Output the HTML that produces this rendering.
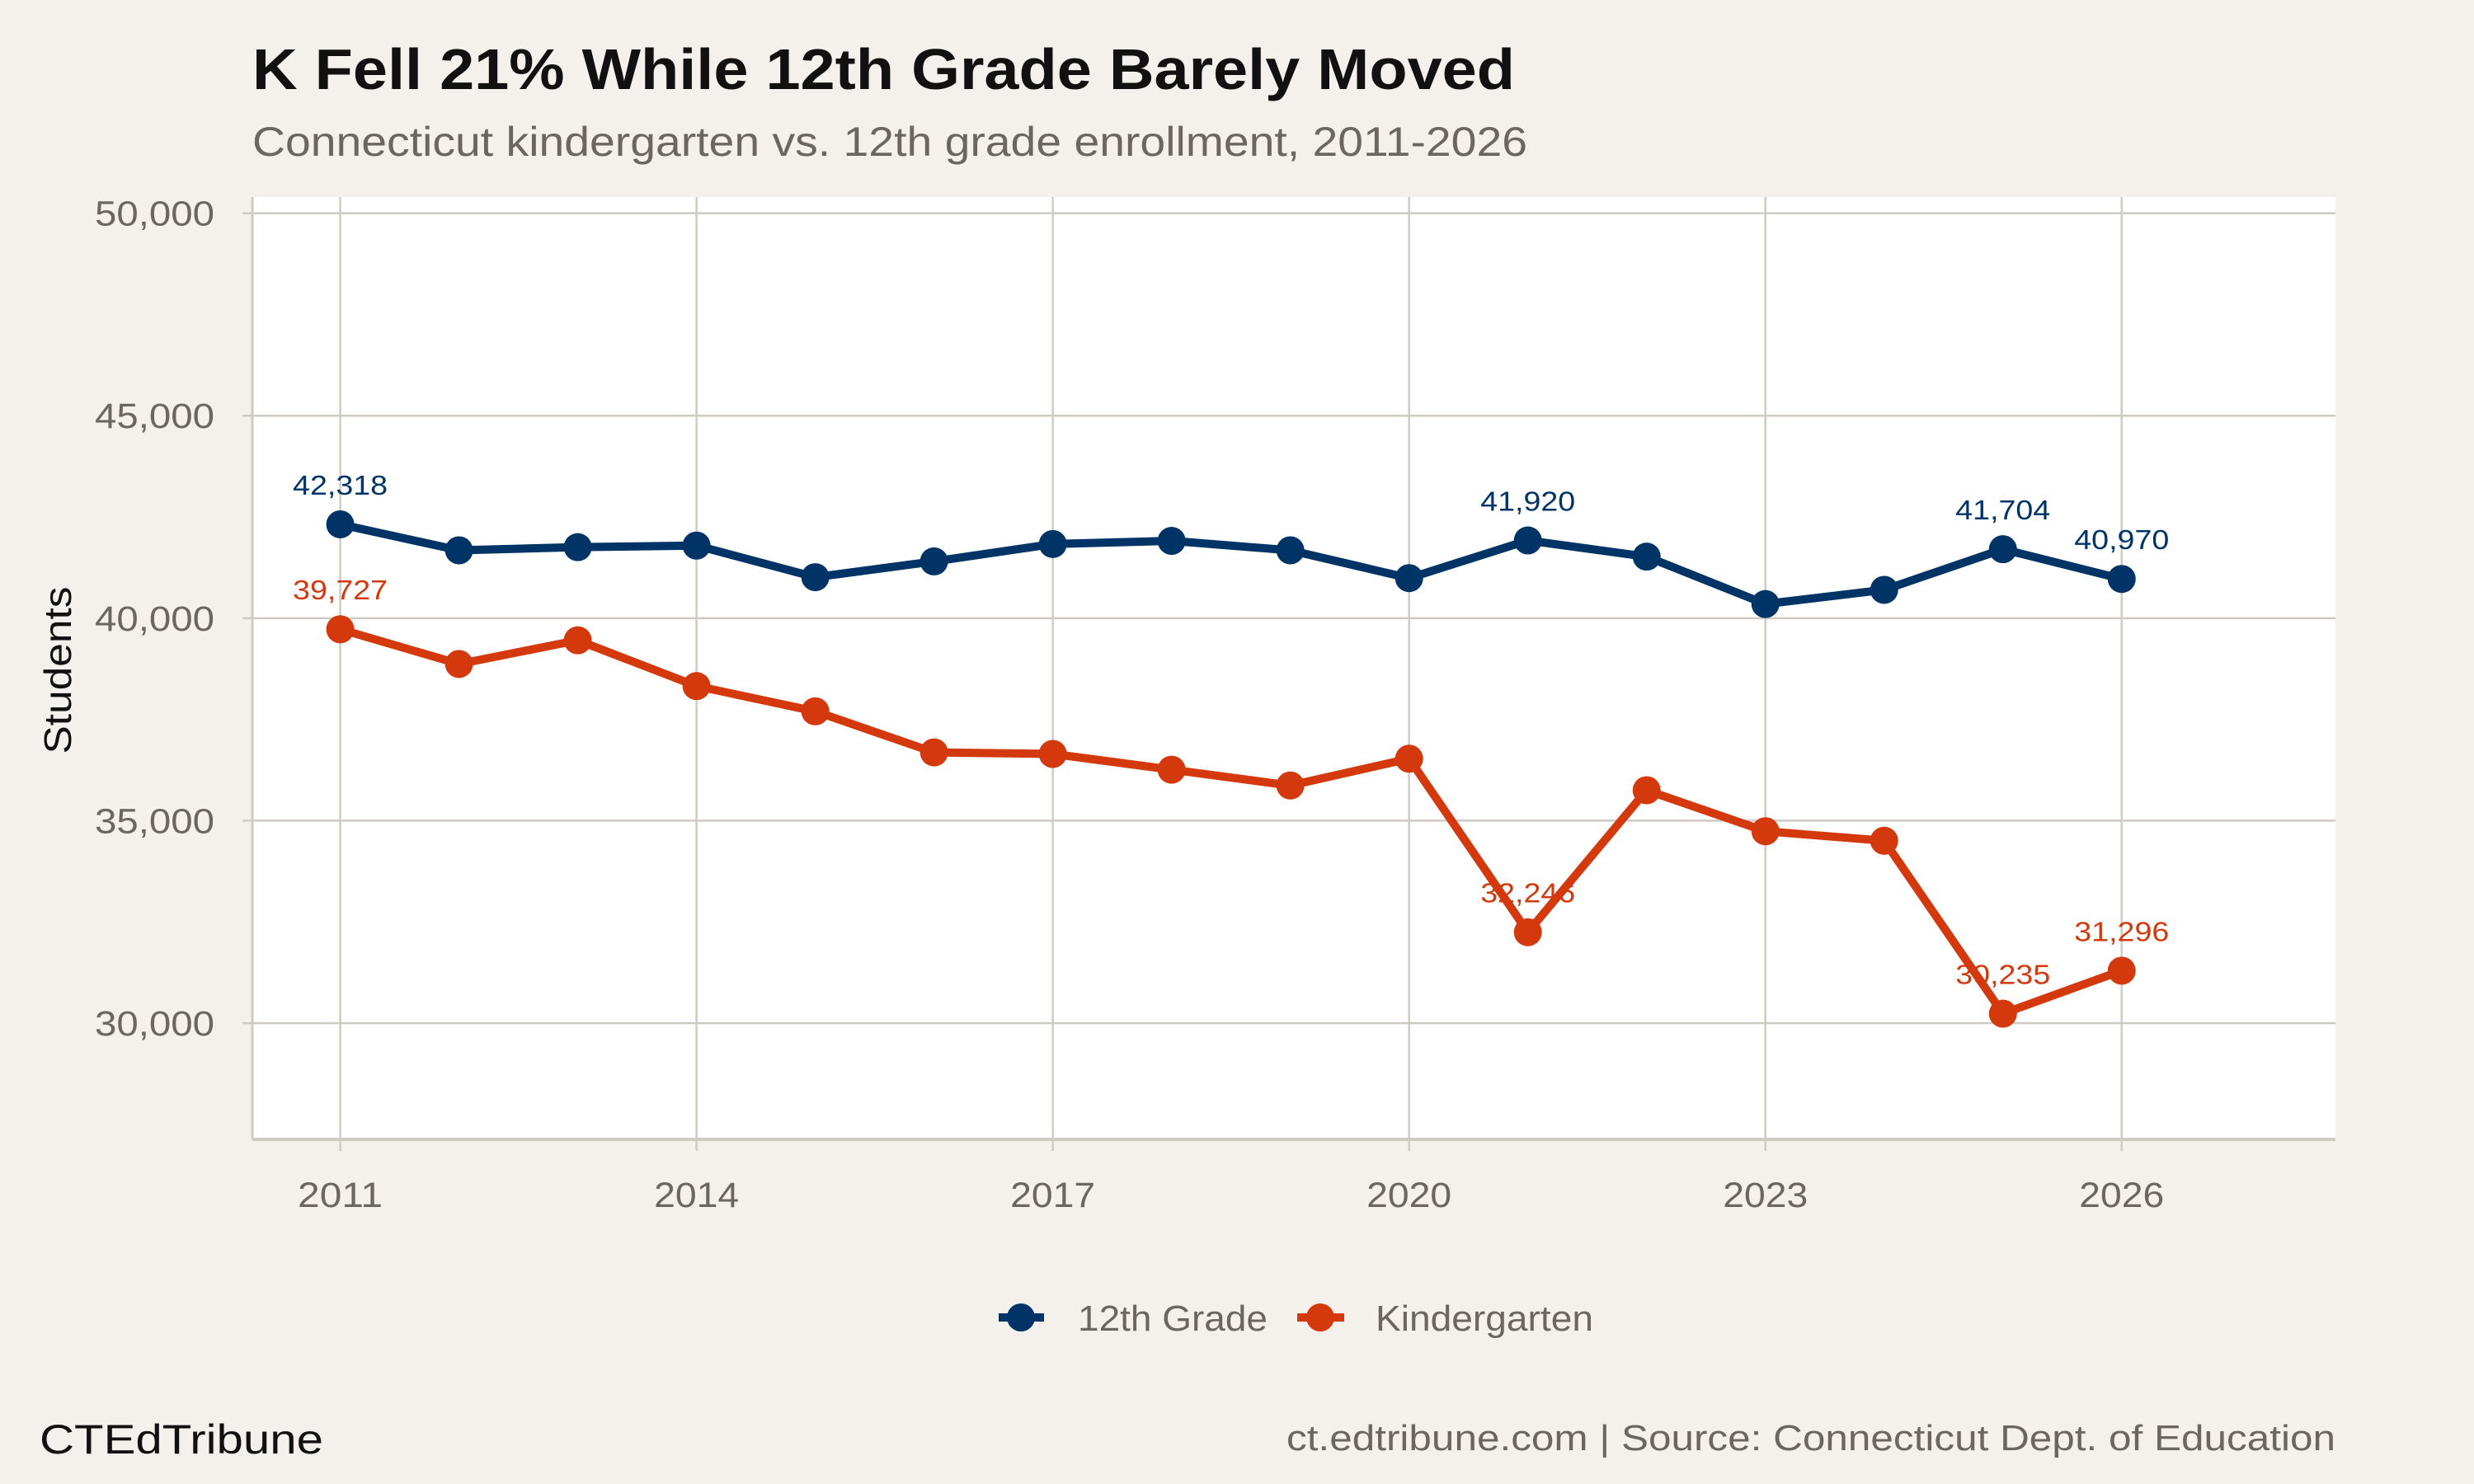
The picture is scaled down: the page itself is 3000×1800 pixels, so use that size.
<!DOCTYPE html>
<html><head><meta charset="utf-8"><style>
html,body{margin:0;padding:0;background:#f4f1ec;}
svg{display:block;font-family:"Liberation Sans",sans-serif;}
</style></head><body>
<svg id="chart" width="3000" height="1800" viewBox="0 0 3000 1800" xmlns="http://www.w3.org/2000/svg">
<rect width="3000" height="1800" fill="#f4f1ec"/>
<text x="306" y="108" font-size="70" font-weight="bold" fill="#111" textLength="1531" lengthAdjust="spacingAndGlyphs">K Fell 21% While 12th Grade Barely Moved</text>
<text x="306" y="189" font-size="50" fill="#6b6661" textLength="1546" lengthAdjust="spacingAndGlyphs">Connecticut kindergarten vs. 12th grade enrollment, 2011-2026</text>
<rect x="306" y="239" width="2526" height="1143" fill="#fff"/>
<g id="grid"></g>
<g id="series"></g>
<text transform="translate(86,813) rotate(-90)" text-anchor="middle" font-size="46" fill="#111" textLength="203" lengthAdjust="spacingAndGlyphs">Students</text>
<g>
<g>
<line x1="1211" y1="1598" x2="1266" y2="1598" stroke="#003366" stroke-width="10"/>
<circle cx="1238" cy="1598" r="17" fill="#003366"/>
<text x="1307" y="1614" font-size="44" fill="#6b6661" textLength="230" lengthAdjust="spacingAndGlyphs">12th Grade</text>
</g>
<g>
<line x1="1573" y1="1598" x2="1630" y2="1598" stroke="#d4380d" stroke-width="10"/>
<circle cx="1601" cy="1598" r="17" fill="#d4380d"/>
<text x="1668" y="1614" font-size="44" fill="#6b6661" textLength="264" lengthAdjust="spacingAndGlyphs">Kindergarten</text>
</g>
</g>
<text x="48" y="1763" font-size="50" fill="#111" textLength="344" lengthAdjust="spacingAndGlyphs">CTEdTribune</text>
<text x="2832" y="1759" text-anchor="end" font-size="44" fill="#6b6661" textLength="1272" lengthAdjust="spacingAndGlyphs">ct.edtribune.com | Source: Connecticut Dept. of Education</text>
</svg>
<script>
const years = [2011,2012,2013,2014,2015,2016,2017,2018,2019,2020,2021,2022,2023,2024,2025,2026];
const grade12 = [42318,41676,41754,41793,41013,41403,41832,41910,41676,40990,41920,41520,40350,40700,41704,40970];
const kinder = [39727,38870,39454,38324,37700,36687,36648,36259,35869,36531,32246,35752,34739,34505,30235,31296];
const labeledYears = [2011,2021,2025,2026];
const yTicks = [30000,35000,40000,45000,50000];
const xTicks = [2011,2014,2017,2020,2023,2026];

const NS="http://www.w3.org/2000/svg";
const L=306,R=2832,T=239,B=1382;
const xMin=2010.26,xMax=2027.8,yMin=27130,yMax=50400;
const sx=v=>L+(v-xMin)/(xMax-xMin)*(R-L);
const sy=v=>B-(v-yMin)/(yMax-yMin)*(B-T);
const fmt=v=>v.toLocaleString('en-US');
function mk(tag,attrs,parent){const e=document.createElementNS(NS,tag);for(const k in attrs)e.setAttribute(k,attrs[k]);parent.appendChild(e);return e;}
const grid=document.getElementById('grid');
const ser=document.getElementById('series');

yTicks.forEach(v=>{
  const y=sy(v);
  const g=mk('line',{x1:L,x2:R,y1:y,y2:y,stroke:'#cfcac3','stroke-width':2.5},grid);
  
  
  const tk=mk('line',{x1:L-12,x2:L,y1:y,y2:y,stroke:'#cfcac3','stroke-width':2.5},grid);
  
  
  const t=mk('text',{x:260,y:y+15,'text-anchor':'end','font-size':43,fill:'#6b6661',textLength:145,lengthAdjust:'spacingAndGlyphs'},grid);
  t.textContent=fmt(v);
  
  
});
xTicks.forEach(v=>{
  const x=sx(v);
  const g=mk('line',{x1:x,x2:x,y1:T,y2:B,stroke:'#cfcac3','stroke-width':2.5},grid);
  
  
  const tk=mk('line',{x1:x,x2:x,y1:B,y2:B+14,stroke:'#cfcac3','stroke-width':2.5},grid);
  
  
  const t=mk('text',{x:x,y:1464,'text-anchor':'middle','font-size':43,fill:'#6b6661',textLength:103,lengthAdjust:'spacingAndGlyphs'},grid);
  t.textContent=v;
  
  
});
const ax1=mk('line',{x1:L,x2:L,y1:T,y2:B,stroke:'#cfcac3','stroke-width':3},grid);


const ax2=mk('line',{x1:L,x2:R,y1:B,y2:B,stroke:'#cfcac3','stroke-width':4},grid);



function drawSeries(vals,color,name){
  const pts=years.map((yr,i)=>sx(yr)+','+sy(vals[i])).join(' ');
  const pl=mk('polyline',{points:pts,fill:'none',stroke:color,'stroke-width':10,'stroke-linejoin':'round'},ser);
  
  
  years.forEach((yr,i)=>{
    const c=mk('circle',{cx:sx(yr),cy:sy(vals[i]),r:17,fill:color},ser);
    
    
  });
  years.forEach((yr,i)=>{
    if(labeledYears.indexOf(yr)<0)return;
    const t=mk('text',{x:sx(yr),y:sy(vals[i])-36,'text-anchor':'middle','font-size':33,fill:color,textLength:115,lengthAdjust:'spacingAndGlyphs'},ser);
    t.textContent=fmt(vals[i]);
    
    
  });
}
drawSeries(grade12,'#003366','grade12');
drawSeries(kinder,'#d4380d','kindergarten');
</script>
</body></html>
